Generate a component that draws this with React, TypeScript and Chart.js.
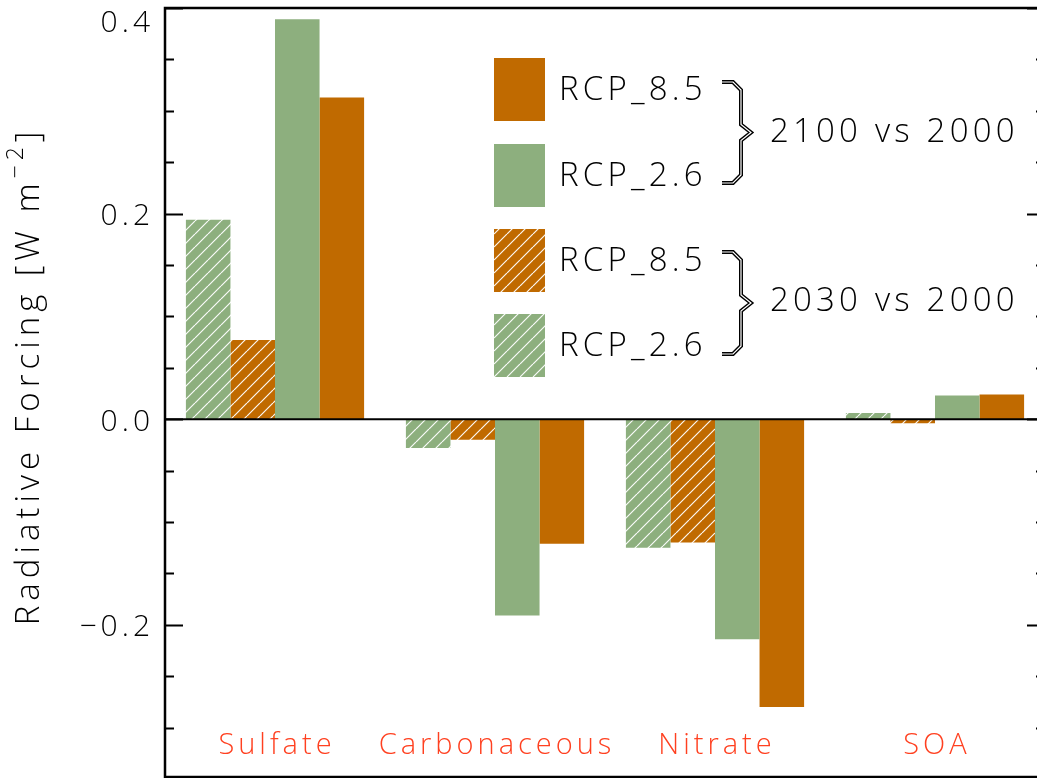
import { useEffect, useRef } from 'react';
import { Chart, registerables } from 'chart.js';

Chart.register(...registerables);

// Aerosol species on the category axis
const categories = ['Sulfate', 'Carbonaceous', 'Nitrate', 'SOA'];

// Radiative forcing, W m^-2
const rcp26_2030 = [0.194, -0.028, -0.125, 0.006];
const rcp85_2030 = [0.077, -0.020, -0.120, -0.004];
const rcp26_2100 = [0.389, -0.191, -0.214, 0.023];
const rcp85_2100 = [0.313, -0.121, -0.280, 0.024];

// Labelled y ticks
const yTickLabels = [0.4, 0.2, 0.0, -0.2];

// Legend rows (top to bottom)
const legendLabels = ['RCP_8.5', 'RCP_2.6', 'RCP_8.5', 'RCP_2.6'];
const legendGroups = ['2100 vs 2000', '2030 vs 2000'];

const GREEN = '#8daf7e';
const ORANGE = '#c06a00';
const LABEL_RED = '#ff4020';
const FONT = "'Open Sans', 'DejaVu Sans', sans-serif";

function makeHatch(color: string): CanvasPattern | string {
  const s = 13;
  const c = document.createElement('canvas');
  c.width = s;
  c.height = s;
  const g = c.getContext('2d');
  if (!g) return color;
  g.fillStyle = color;
  g.fillRect(0, 0, s, s);
  g.strokeStyle = 'rgba(255,255,255,0.95)';
  g.lineWidth = 1.2;
  g.beginPath();
  for (const x0 of [-s, 0, s]) {
    g.moveTo(x0, s);
    g.lineTo(x0 + s, 0);
  }
  g.stroke();
  return g.createPattern(c, 'repeat') || color;
}

function fmtTick(v: number): string {
  const t = Math.abs(v).toFixed(1);
  return v < 0 ? '\u2212' + t : t;
}

function setSpacing(ctx: CanvasRenderingContext2D, px: number) {
  (ctx as any).letterSpacing = `${px}px`;
}

export default function App() {
  const canvasRef = useRef<HTMLCanvasElement | null>(null);

  useEffect(() => {
    const canvas = canvasRef.current;
    if (!canvas) return;
    const hatchGreen = makeHatch(GREEN);
    const hatchOrange = makeHatch(ORANGE);

    const decorations = {
      id: 'frameAndLegend',
      afterDraw(chart: any) {
        const ctx: CanvasRenderingContext2D = chart.ctx;
        const { left, right, top, bottom } = chart.chartArea;
        const ys = chart.scales.y;
        const xs = chart.scales.x;
        ctx.save();

        // frame
        ctx.strokeStyle = '#000';
        ctx.lineWidth = 2.5;
        ctx.strokeRect(left, top, right - left, bottom - top);

        // zero line
        const y0 = ys.getPixelForValue(0);
        ctx.lineWidth = 2;
        ctx.beginPath();
        ctx.moveTo(left, y0);
        ctx.lineTo(right, y0);
        ctx.stroke();

        // inward ticks on both sides
        ctx.lineWidth = 2;
        for (let i = -7; i <= 8; i++) {
          const v = i * 0.05;
          const py = Math.round(ys.getPixelForValue(v)) + 0.5;
          const len = i % 4 === 0 ? 18 : 9;
          ctx.beginPath();
          ctx.moveTo(left, py);
          ctx.lineTo(left + len, py);
          ctx.moveTo(right, py);
          ctx.lineTo(right - len, py);
          ctx.stroke();
        }

        // tick labels
        setSpacing(ctx, 4);
        ctx.fillStyle = '#000';
        ctx.font = `300 30px ${FONT}`;
        ctx.textAlign = 'right';
        ctx.textBaseline = 'middle';
        for (const v of yTickLabels) {
          let py = ys.getPixelForValue(v) + 3;
          if (py < 23) py = 23;
          ctx.fillText(fmtTick(v), 154, py);
        }

        // axis title with superscript
        ctx.save();
        ctx.translate(30, 376);
        ctx.rotate(-Math.PI / 2);
        ctx.textAlign = 'left';
        ctx.textBaseline = 'middle';
        setSpacing(ctx, 5);
        const main = 'Radiative Forcing [W m';
        const sup = '\u22122';
        ctx.font = `300 33px ${FONT}`;
        const wMain = ctx.measureText(main).width;
        ctx.font = `300 23px ${FONT}`;
        const wSup = ctx.measureText(sup).width;
        ctx.font = `300 33px ${FONT}`;
        const wEnd = ctx.measureText(']').width;
        const total = wMain + wSup + wEnd;
        let tx = -total / 2;
        ctx.fillText(main, tx, 0);
        tx += wMain;
        ctx.font = `300 23px ${FONT}`;
        ctx.fillText(sup, tx, -14);
        tx += wSup;
        ctx.font = `300 33px ${FONT}`;
        ctx.fillText(']', tx, 0);
        ctx.restore();

        // category labels
        setSpacing(ctx, 4);
        ctx.fillStyle = LABEL_RED;
        ctx.font = `300 29px ${FONT}`;
        ctx.textAlign = 'center';
        ctx.textBaseline = 'middle';
        categories.forEach((c, i) => {
          ctx.fillText(c, xs.getPixelForValue(i) + 2, 746);
        });

        // legend swatches
        const fills = [ORANGE, GREEN, hatchOrange, hatchGreen];
        const swTop = [58, 144, 229, 314];
        fills.forEach((f, i) => {
          ctx.fillStyle = f as any;
          ctx.fillRect(494, swTop[i], 51, 63);
        });

        // legend labels
        setSpacing(ctx, 4.2);
        ctx.fillStyle = '#000';
        ctx.font = `300 33px ${FONT}`;
        ctx.textAlign = 'left';
        ctx.textBaseline = 'middle';
        legendLabels.forEach((l, i) => {
          ctx.fillText(l, 559, swTop[i] + 33);
        });

        // braces grouping the legend rows
        const brace = (yt: number, yb: number) => {
          const ym = (yt + yb) / 2;
          ctx.beginPath();
          ctx.moveTo(722, yt);
          ctx.lineTo(733, yt);
          ctx.lineTo(741, yt + 8);
          ctx.lineTo(741, ym - 8);
          ctx.lineTo(751, ym);
          ctx.lineTo(741, ym + 8);
          ctx.lineTo(741, yb - 8);
          ctx.lineTo(733, yb);
          ctx.lineTo(722, yb);
          ctx.lineJoin = 'miter';
          ctx.strokeStyle = '#000';
          ctx.lineWidth = 4;
          ctx.stroke();
          ctx.strokeStyle = '#fff';
          ctx.lineWidth = 1.2;
          ctx.stroke();
        };
        brace(82, 183);
        brace(252, 354);

        setSpacing(ctx, 4.2);
        ctx.fillStyle = '#000';
        ctx.font = `300 33px ${FONT}`;
        ctx.fillText(legendGroups[0], 770, 133);
        ctx.fillText(legendGroups[1], 770, 302);

        ctx.restore();
      },
    };

    const chart = new Chart(canvas, {
      type: 'bar',
      data: {
        labels: categories,
        datasets: [
          { label: 'RCP_2.6 2030', data: rcp26_2030, backgroundColor: hatchGreen as any },
          { label: 'RCP_8.5 2030', data: rcp85_2030, backgroundColor: hatchOrange as any },
          { label: 'RCP_2.6 2100', data: rcp26_2100, backgroundColor: GREEN },
          { label: 'RCP_8.5 2100', data: rcp85_2100, backgroundColor: ORANGE },
        ],
      },
      options: {
        animation: false,
        responsive: false,
        devicePixelRatio: 1,
        layout: { padding: { left: 165, top: 8, right: 15, bottom: 1 } },
        datasets: { bar: { categoryPercentage: 0.81, barPercentage: 1.0, borderWidth: 0 } },
        scales: {
          x: { type: 'category', display: false, offset: true },
          y: { type: 'linear', display: false, min: -0.348, max: 0.4 },
        },
        plugins: {
          legend: { display: false },
          tooltip: { enabled: false },
          title: { display: false },
        },
      },
      plugins: [decorations],
    });

    return () => chart.destroy();
  }, []);

  return (
    <div
      style={{
        position: 'fixed',
        left: 0,
        top: 0,
        width: 1037,
        height: 778,
        overflow: 'hidden',
        background: '#fff',
      }}
    >
      <canvas ref={canvasRef} width={1060} height={778} style={{ display: 'block' }} />
    </div>
  );
}
